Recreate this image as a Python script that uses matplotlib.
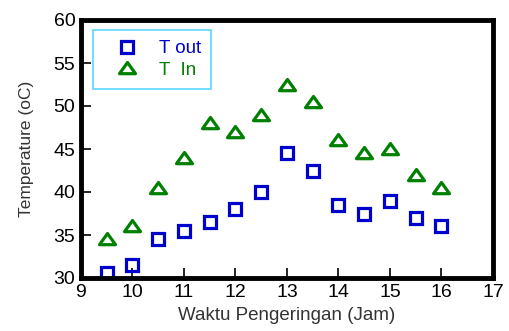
import matplotlib.pyplot as plt
from matplotlib.path import Path

plt.rcParams['font.family'] = ['Liberation Sans', 'DejaVu Sans']

jam = [9.5, 10, 10.5, 11, 11.5, 12, 12.5, 13, 13.5, 14, 14.5, 15, 15.5, 16]
t_out = [30.6, 31.5, 34.5, 35.5, 36.5, 38, 40, 44.5, 42.5, 38.5, 37.5, 39, 37, 36]
t_in = [34.5, 36, 40.5, 44, 48, 47, 49, 52.5, 50.5, 46, 44.5, 45, 42, 40.5]

# squat open triangle
tri = Path([(-1, -0.65), (1, -0.65), (0, 0.75), (-1, -0.65)],
           [Path.MOVETO, Path.LINETO, Path.LINETO, Path.CLOSEPOLY])

fig = plt.figure(figsize=(5.09, 3.31), dpi=100)
ax = fig.add_axes([81 / 509, 53 / 331, 412 / 509, 258 / 331])

ax.plot(jam, t_out, 's', ms=8, mfc='none', mec='#0000cc', mew=2.3, label='T out')
ax.plot(jam, t_in, marker=tri, ls='none', ms=11.5, mfc='none', mec='#008000',
        mew=2.3, label='T  In')

ax.set_xlim(9, 17)
ax.set_ylim(30, 60)
ax.set_xticks(range(9, 18))
ax.set_yticks(range(30, 61, 5))
for s in ax.spines.values():
    s.set_linewidth(3.5)
ax.tick_params(direction='in', length=7, width=1.2, labelsize=14, pad=4)

ax.set_xlabel('Waktu Pengeringan (Jam)', fontsize=13.5, color='#333333', labelpad=5)
ax.set_ylabel('Temperature (oC)', fontsize=12.5, color='#333333', labelpad=14)

leg = ax.legend(loc='upper left', bbox_to_anchor=(0.029, 0.961), fontsize=13.5,
                frameon=True, fancybox=False, borderpad=0.55, handlelength=2.5,
                handletextpad=0.45, labelspacing=0.22, borderaxespad=0)
leg.get_frame().set_edgecolor('#33ccff')
leg.get_frame().set_linewidth(1.2)
for txt, c in zip(leg.get_texts(), ['#0000cc', '#008000']):
    txt.set_color(c)

fig.savefig('out.png', dpi=100)
